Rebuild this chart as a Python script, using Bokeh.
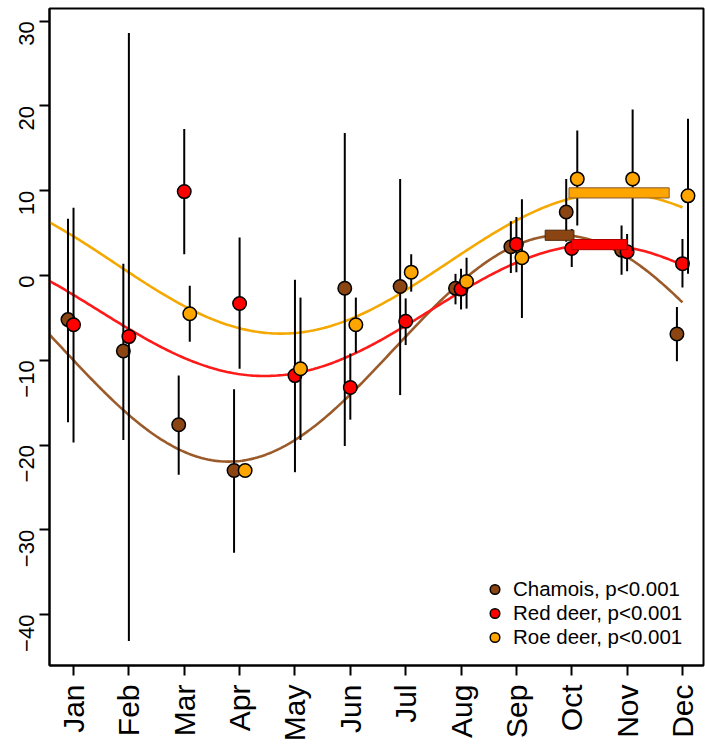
import numpy as np
from bokeh.plotting import figure
from bokeh.models import Range1d, FixedTicker, Legend, LegendItem
from bokeh.embed import file_html
from bokeh.resources import INLINE

# Monthly anomalies (mean with interval) for three species
months = ["Jan", "Feb", "Mar", "Apr", "May", "Jun", "Jul", "Aug", "Sep", "Oct", "Nov", "Dec"]
month_num = list(range(1, 13))
nan = float("nan")

chamois_val = [-5.2, -8.9, -17.6, -23.0, nan, -1.5, -1.3, -1.5, 3.4, 7.5, 3.0, -6.9]
chamois_lo = [-17.3, -19.4, -23.5, -32.7, nan, -20.1, -14.1, -3.4, 0.3, 4.0, 0.1, -10.1]
chamois_hi = [6.7, 1.4, -11.8, -13.4, nan, 16.8, 11.4, 0.2, 6.4, 11.4, 5.9, -3.7]

red_val = [-5.8, -7.2, 9.9, -3.3, -11.8, -13.2, -5.4, -1.6, 3.7, 3.2, 2.8, 1.4]
red_lo = [-19.7, -43.1, 2.5, -11.0, -23.2, -17.0, -8.2, -4.0, 0.4, 1.0, 0.5, -1.4]
red_hi = [8.0, 28.6, 17.3, 4.5, -0.5, -9.2, -2.7, 0.8, 6.9, 5.5, 4.9, 4.3]

roe_val = [nan, nan, -4.5, -23.0, -11.0, -5.8, 0.4, -0.7, 2.1, 11.4, 11.4, 9.4]
roe_lo = [nan, nan, -7.8, nan, -19.4, -9.1, -1.9, -3.9, -5.0, 5.9, 2.9, 0.2]
roe_hi = [nan, nan, -1.2, nan, -2.6, -2.6, 2.5, 2.1, 9.0, 17.1, 19.6, 18.5]

# Fitted annual cycle: mean level, amplitude, month of peak
fit_mean = [-8.6, -4.1, 1.45]
fit_amp = [13.35, 7.75, 8.3]
fit_peak = [9.8, 10.45, 10.75]
# Interval of the peak month
peak_lo = [9.52, 10.0, 9.95]
peak_hi = [10.04, 11.0, 11.76]

labels = ["Chamois, p<0.001", "Red deer, p<0.001", "Roe deer, p<0.001"]
point_colors = ["#8B4513", "#FF0000", "#FFA500"]
curve_colors = ["#9A5A2A", "#FF1A1A", "#F5A800"]
bar_lines = ["#4A2608", "#B00000", "#8B5A2B"]
offsets = [-0.1, 0.0, 0.1]

series = [
    (chamois_val, chamois_lo, chamois_hi),
    (red_val, red_lo, red_hi),
    (roe_val, roe_lo, roe_hi),
]

FONT = "Liberation Sans"

p = figure(
    width=705, height=744,
    x_range=Range1d(0.566, 12.38), y_range=Range1d(-46.0, 31.5),
    output_backend="svg", toolbar_location=None,
    min_border_left=49, min_border_right=2, min_border_top=8, min_border_bottom=79,
)
p.grid.visible = False
p.outline_line_color = "black"
p.outline_line_width = 2
p.background_fill_color = "white"
p.border_fill_color = "white"

# Axes
p.xaxis.ticker = FixedTicker(ticks=month_num)
p.xaxis.major_label_overrides = {m: lab for m, lab in zip(month_num, months)}
p.xaxis.major_label_orientation = np.pi / 2
p.xaxis.major_label_text_font_size = "30px"
p.xaxis.major_label_standoff = 9
p.yaxis.ticker = FixedTicker(ticks=[-40, -30, -20, -10, 0, 10, 20, 30])
p.yaxis.major_label_orientation = np.pi / 2
p.yaxis.major_label_text_font_size = "22px"
p.yaxis.major_label_standoff = 13
for ax in (p.xaxis, p.yaxis):
    ax.major_label_text_font = FONT
    ax.major_label_text_color = "black"
    ax.axis_line_width = 2
    ax.axis_line_color = "black"
    ax.major_tick_line_width = 2
    ax.major_tick_line_color = "black"
    ax.major_tick_out = 10
    ax.major_tick_in = 0
    ax.minor_tick_line_color = None

# Fitted curves
xs = np.linspace(0.4, 12.0, 300)
for m, a, pk, c in zip(fit_mean, fit_amp, fit_peak, curve_colors):
    ys = m + a * np.cos(2 * np.pi * (xs - pk) / 12.0)
    p.line(xs, ys, line_color=c, line_width=2.6)

# Error bars and points
point_renderers = []
for (val, lo, hi), off, col in zip(series, offsets, point_colors):
    xpos = [mn + off for mn in month_num]
    p.segment(x0=xpos, y0=lo, x1=xpos, y1=hi, line_color="black", line_width=2)
    r = p.scatter(xpos, val, size=13.5, fill_color=col, line_color="black", line_width=1.5)
    point_renderers.append(r)

# Peak-timing bars at the height of each curve's maximum
for lo, hi, m, a, col, lc in zip(peak_lo, peak_hi, fit_mean, fit_amp, point_colors, bar_lines):
    top = m + a
    p.quad(left=[lo], right=[hi], bottom=[top - 0.6], top=[top + 0.6],
           fill_color=col, line_color=lc, line_width=1)

legend = Legend(
    items=[LegendItem(label=lab, renderers=[r]) for lab, r in zip(labels, point_renderers)],
    location=(433, 16),
    glyph_width=25, glyph_height=24, label_height=24,
    label_standoff=6, spacing=0, padding=0, margin=0,
    label_text_font=FONT, label_text_font_size="20.5px", label_text_color="black",
    border_line_color=None, background_fill_alpha=0,
)
p.add_layout(legend)

open("out.html", "w").write(file_html(p, INLINE))
